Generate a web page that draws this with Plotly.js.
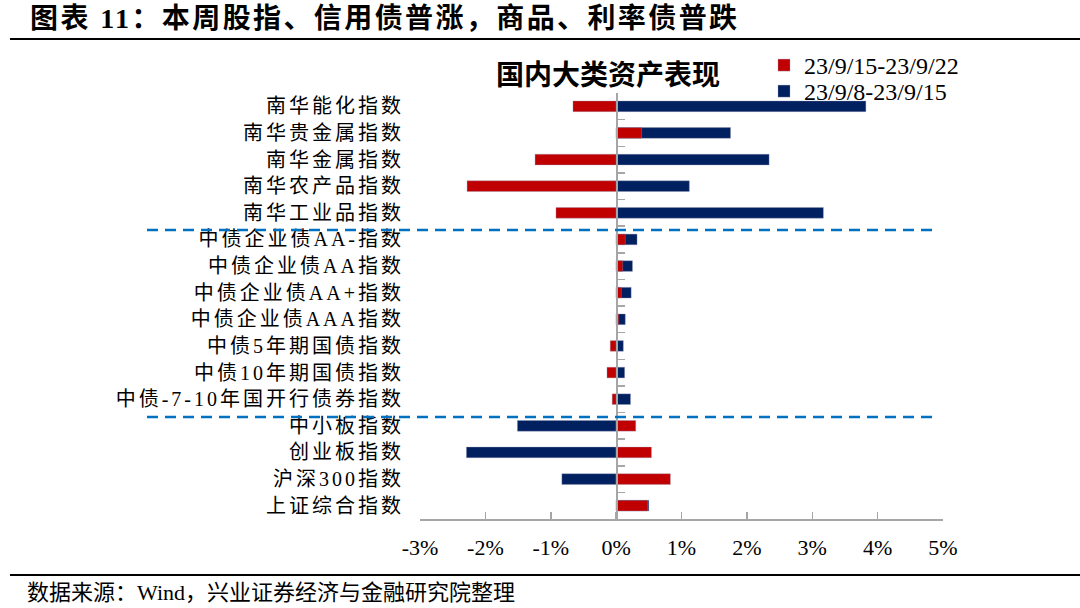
<!DOCTYPE html>
<html>
<head>
<meta charset="utf-8">
<script src="https://cdn.plot.ly/plotly-3.0.1.min.js"></script>
<style>
html,body{margin:0;padding:0;background:#fff;}
#chart{width:1080px;height:608px;}
</style>
</head>
<body>
<div id="chart"></div>
<script>
// ---- data ----
const categories = [
  "南华能化指数","南华贵金属指数","南华金属指数","南华农产品指数","南华工业品指数",
  "中债企业债AA-指数","中债企业债AA指数","中债企业债AA+指数","中债企业债AAA指数",
  "中债5年期国债指数","中债10年期国债指数","中债-7-10年国开行债券指数",
  "中小板指数","创业板指数","沪深300指数","上证综合指数"
];
const seriesNames = ["23/9/15-23/9/22", "23/9/8-23/9/15"];
const thisWeek = [-0.66, 0.39, -1.24, -2.28, -0.92, 0.14, 0.10, 0.08, 0.04, -0.09, -0.14, -0.06, 0.30, 0.54, 0.83, 0.48];
const lastWeek = [3.82, 1.75, 2.34, 1.12, 3.17, 0.32, 0.25, 0.23, 0.14, 0.11, 0.13, 0.22, -1.51, -2.29, -0.83, 0.50];
const xTickVals = [-3, -2, -1, 0, 1, 2, 3, 4, 5];
const groupBreaks = [4.65, 11.67];

// ---- layout helpers ----
const W = 1080, H = 608;
const M = {l: 420, r: 137, t: 93, b: 89};
const PW = W - M.l - M.r, PH = H - M.t - M.b;
const px2x = p => (p - M.l) / PW;
const px2y = p => (H - M.b - p) / PH;
const xMin = xTickVals[0], xMax = xTickVals[xTickVals.length - 1];
const zeroPos = (0 - xMin) / (xMax - xMin);

const serif = "Liberation Serif, Noto Sans CJK SC, serif";
const RED = "#C00000", BLUE = "#002060", AXIS = "#a6a6a6";

const traces = [
  {type: "bar", orientation: "h", name: seriesNames[0], x: thisWeek, y: categories,
   yaxis: "y2", legend: "legend", width: 0.4,
   marker: {color: RED, line: {color: "rgba(150,150,180,0.6)", width: 0.6}}, hoverinfo: "x+y"},
  {type: "bar", orientation: "h", name: seriesNames[1], x: lastWeek, y: categories,
   yaxis: "y", legend: "legend2", width: 0.4,
   marker: {color: BLUE, line: {color: "rgba(150,150,180,0.6)", width: 0.6}}, hoverinfo: "x+y"}
];

const shapes = [
  {type: "line", xref: "paper", yref: "paper", x0: px2x(10), x1: px2x(1080), y0: px2y(39), y1: px2y(39),
   line: {color: "#000", width: 2}},
  {type: "line", xref: "paper", yref: "paper", x0: px2x(10), x1: px2x(1080), y0: px2y(575), y1: px2y(575),
   line: {color: "#000", width: 2}}
];
groupBreaks.forEach(b => shapes.push({
  type: "line", xref: "paper", yref: "y", x0: px2x(147), x1: px2x(935), y0: b, y1: b,
  line: {color: "#0070C0", width: 2.5, dash: "11px,7px"}
}));

const legendBase = {
  xanchor: "left", yanchor: "top", bgcolor: "rgba(0,0,0,0)",
  font: {family: serif, size: 24, color: "#000"},
  tracegroupgap: 0, itemclick: false, itemdoubleclick: false
};

const layout = {
  width: W, height: H,
  margin: M,
  paper_bgcolor: "#fff", plot_bgcolor: "rgba(0,0,0,0)",
  barmode: "overlay",
  showlegend: true,
  font: {family: serif, color: "#000"},
  xaxis: {
    range: [xMin, xMax], tickvals: xTickVals, ticktext: xTickVals.map(v => v + "%"),
    showgrid: false, zeroline: false, showline: true, linecolor: AXIS, linewidth: 1.5,
    ticks: "inside", ticklen: 7, tickcolor: AXIS, tickwidth: 1.5,
    tickfont: {family: serif, size: 22, color: "#000"}, ticklabelstandoff: 8, fixedrange: true
  },
  yaxis: {
    type: "category", categoryorder: "array", categoryarray: categories,
    range: [categories.length - 0.5, -0.5],
    tickmode: "linear", tick0: 0, dtick: 1,
    showgrid: false, zeroline: false, showline: false, ticks: "",
    tickfont: {family: serif, size: 20, color: "#000"}, ticklabelstandoff: 15, fixedrange: true
  },
  yaxis2: {
    type: "category", categoryorder: "array", categoryarray: categories,
    range: [categories.length - 0.5, -0.5],
    overlaying: "y", anchor: "free", position: zeroPos, side: "left",
    showgrid: false, zeroline: false, showline: true, linecolor: AXIS, linewidth: 1.5,
    ticks: "inside", tickson: "boundaries", ticklen: 7, tickcolor: AXIS, tickwidth: 1.5,
    showticklabels: false, fixedrange: true
  },
  legend: Object.assign({}, legendBase, {x: px2x(764), y: px2y(43)}),
  legend2: Object.assign({}, legendBase, {x: px2x(764), y: px2y(69)}),
  shapes: shapes,
  annotations: [
    {xref: "paper", yref: "paper", x: px2x(28), y: px2y(19), xanchor: "left", yanchor: "middle",
     showarrow: false, text: "图表 11：本周股指、信用债普涨，商品、利率债普跌",
     font: {family: serif, size: 28, weight: "bold", color: "#000"}},
    {xref: "paper", yref: "paper", x: px2x(608), y: px2y(75), xanchor: "center", yanchor: "middle",
     showarrow: false, text: "国内大类资产表现",
     font: {family: serif, size: 28, weight: "bold", color: "#000"}},
    {xref: "paper", yref: "paper", x: px2x(25), y: px2y(592), xanchor: "left", yanchor: "middle",
     showarrow: false, text: "数据来源：Wind，兴业证券经济与金融研究院整理",
     font: {family: serif, size: 22, color: "#000"}}
  ]
};

// widen glyph spacing of a text, keeping its left (or right) edge in place
function spaceOut(el, spacing, keepLeft) {
  const base = el.getAttribute("transform") || "";
  const r0 = el.getBoundingClientRect();
  el.style.letterSpacing = spacing + "px";
  const r1 = el.getBoundingClientRect();
  const dx = keepLeft ? (r0.left - r1.left) : (r0.right - r1.right);
  if (Math.abs(dx) > 0.01) el.setAttribute("transform", "translate(" + dx + ",0) " + base);
}

Plotly.newPlot("chart", traces, layout, {displayModeBar: false, staticPlot: true}).then(gd => {
  const ann = gd.querySelectorAll(".annotation-text");
  if (ann[0]) spaceOut(ann[0], 2.4, true);
  gd.querySelectorAll(".ytick text").forEach(t => spaceOut(t, 3, false));
});
</script>
</body>
</html>
